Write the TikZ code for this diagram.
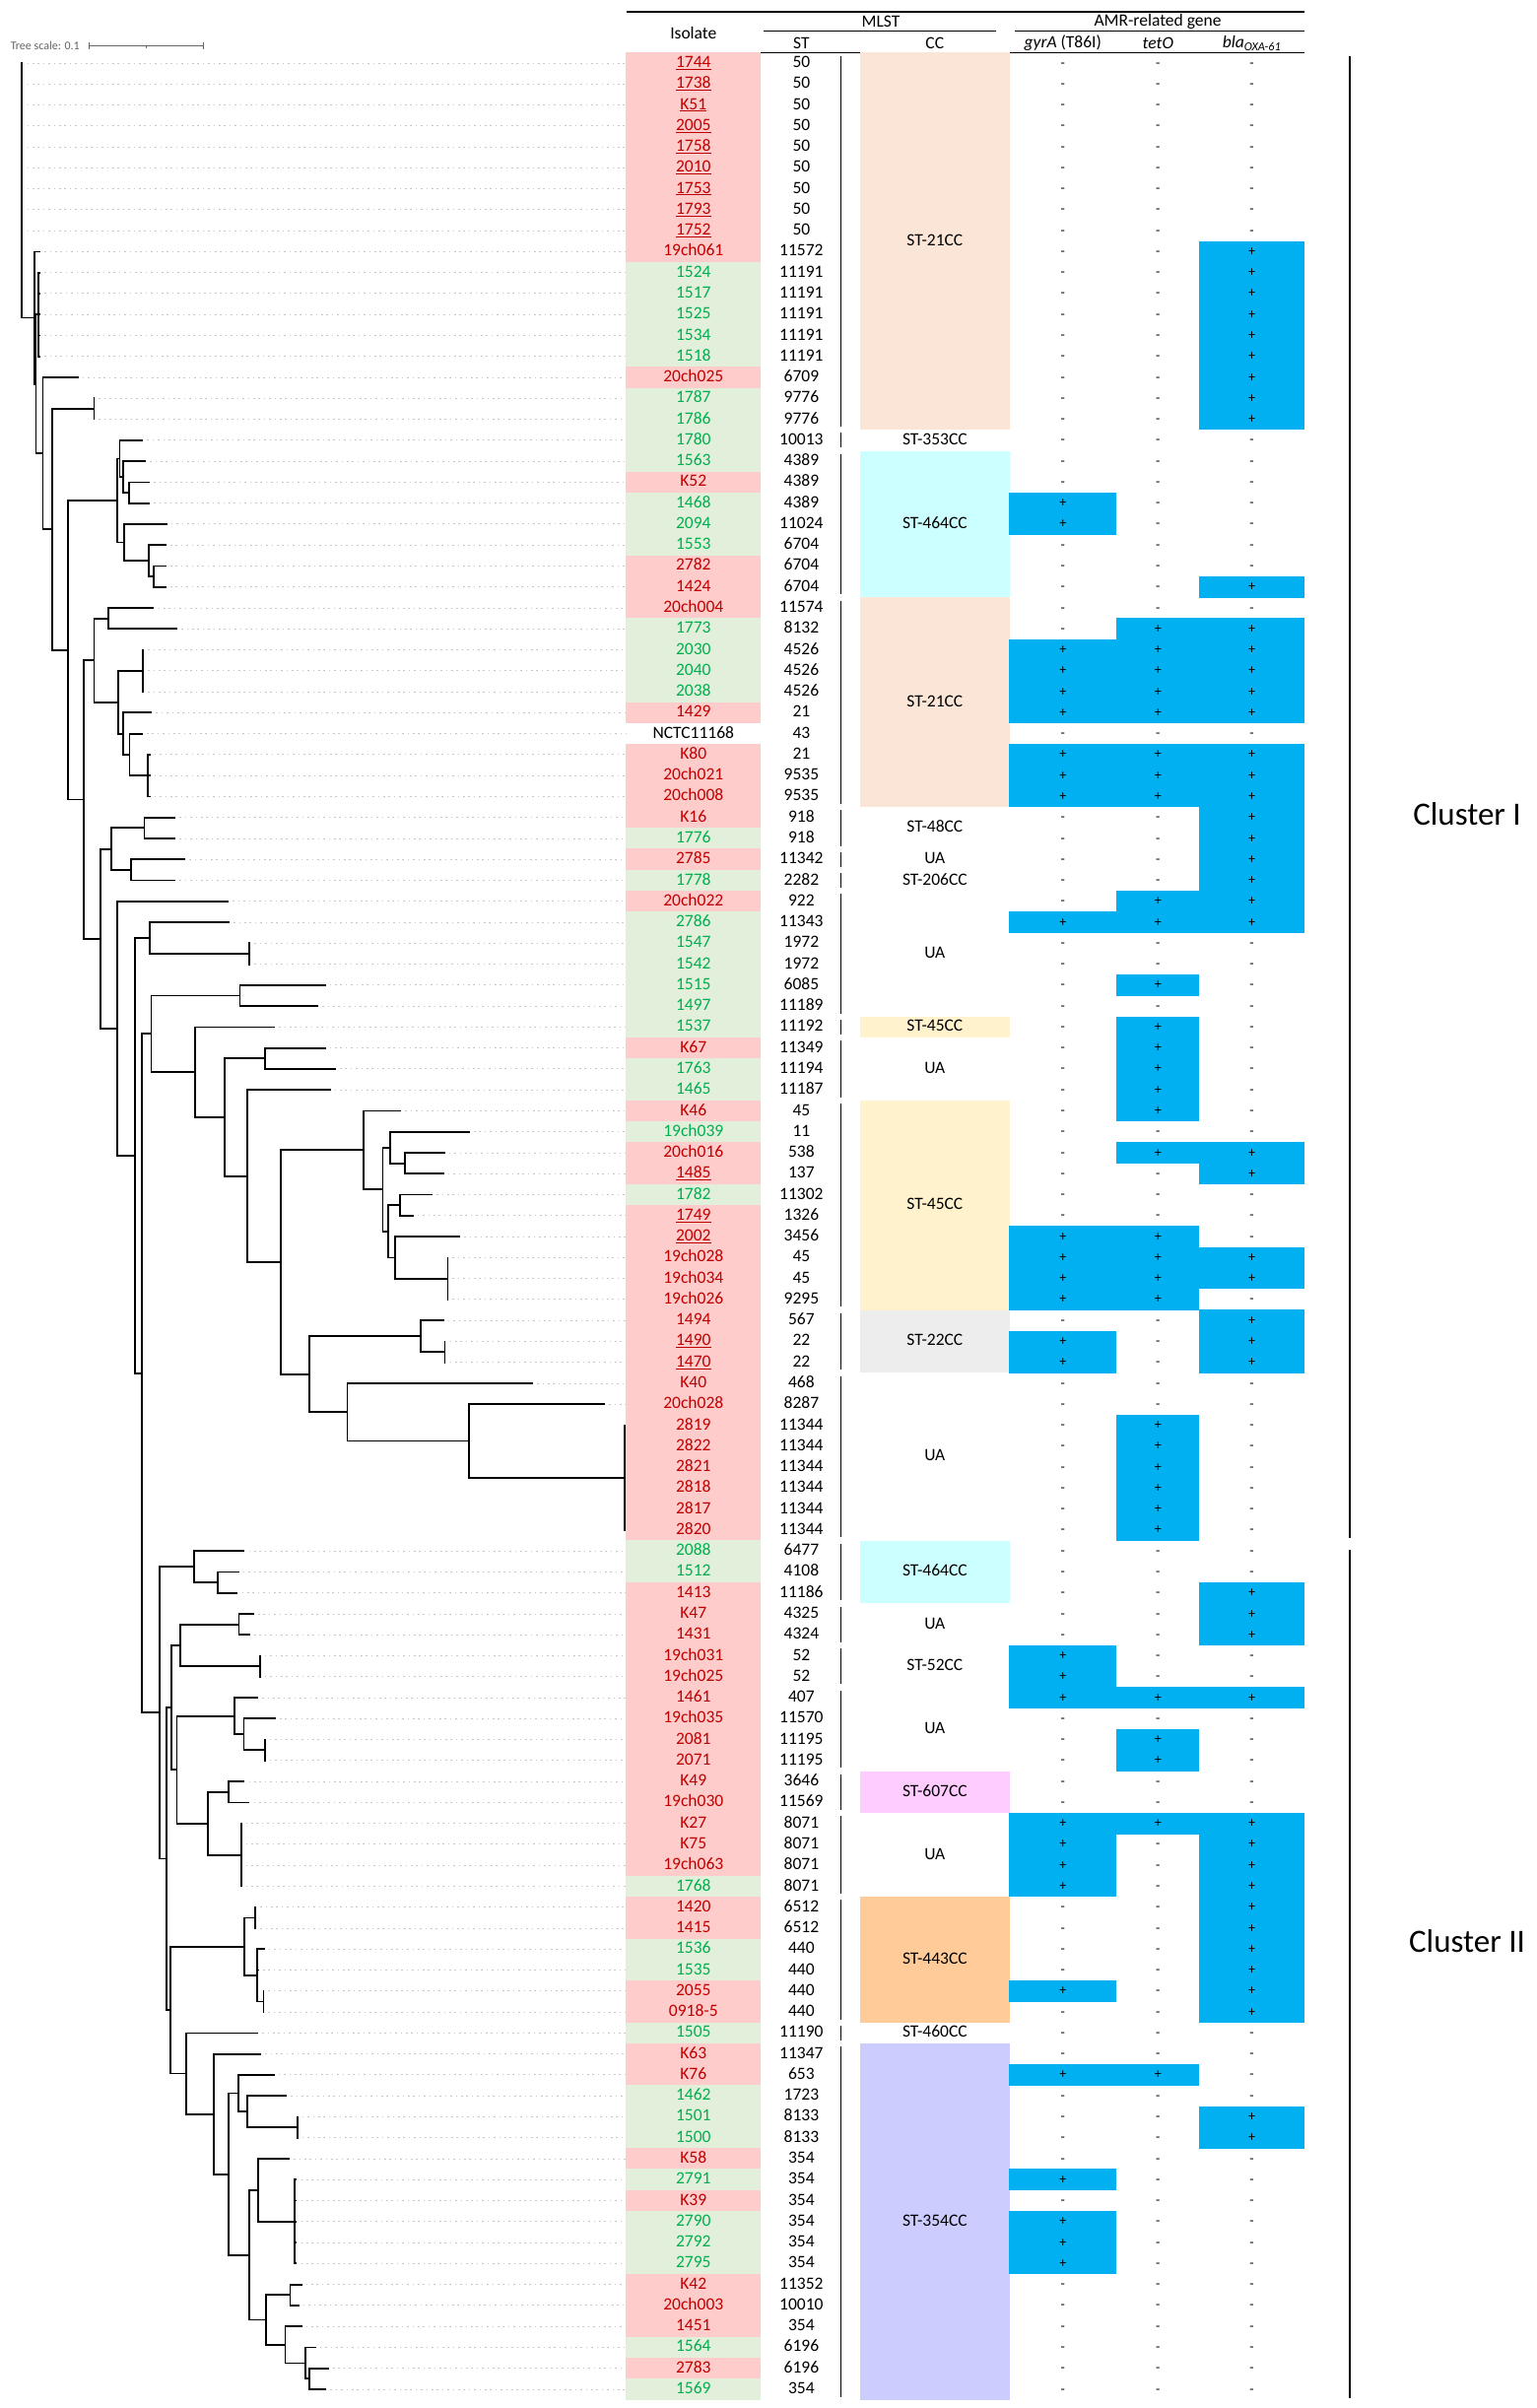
\documentclass[tikz,border=0pt]{standalone}
\usepackage{fontspec}
\setmainfont{Carlito}
\usetikzlibrary{calc}

\definecolor{pinkbg}{RGB}{255,204,204}
\definecolor{greenbg}{RGB}{226,239,218}
\definecolor{isored}{RGB}{192,0,0}
\definecolor{isogreen}{RGB}{0,176,80}
\definecolor{ccpeach}{RGB}{251,229,214}
\definecolor{cccyan}{RGB}{204,255,255}
\definecolor{ccyellow}{RGB}{255,242,204}
\definecolor{ccgray}{RGB}{237,237,237}
\definecolor{ccpink}{RGB}{255,204,255}
\definecolor{ccorange}{RGB}{255,204,153}
\definecolor{cclavender}{RGB}{204,204,255}
\definecolor{amrblue}{RGB}{0,176,240}
\definecolor{leadergray}{RGB}{200,200,200}
\definecolor{scalegray}{RGB}{100,100,100}

\newcommand{\tabfont}{\fontsize{17.5}{20}\selectfont}
\newcommand{\amrfont}{\fontsize{14}{16}\selectfont}
% clade: name, x, first child, last child, all children
\newcommand{\clade}[5]{%
  \coordinate (#1m) at ($(#3)!0.5!(#4)$);
  \coordinate (#1x) at (#2,0);
  \coordinate (#1) at (#1m -| #1x);
  \draw[branch] (#3 -| #1) -- (#4 -| #1);
  \foreach \ch in {#5} \draw[branch] (\ch -| #1) -- (\ch);
}

\begin{document}
\begin{tikzpicture}[x=1pt,y=-1pt,
  branch/.style={line width=1.8pt,line cap=rect},
  leader/.style={draw=leadergray,line width=1pt,dash pattern=on 1.6pt off 3.8pt},
  isocell/.style={inner sep=0pt,minimum width=136.8pt,minimum height=21.6pt,text height=11.5pt,text depth=2.5pt,font=\tabfont},
  stcell/.style={inner sep=0pt,text height=11.5pt,text depth=2.5pt,font=\tabfont},
  cccell/.style={inner sep=0pt,minimum width=151.3pt,text height=11.5pt,text depth=2.5pt,font=\tabfont},
  amrcell/.style={inner sep=0pt,minimum height=21.6pt,text height=9pt,text depth=1pt,font=\amrfont},
  headtext/.style={inner sep=0pt,font=\tabfont},
  sepline/.style={line width=1.5pt},
  clusterbar/.style={line width=1.6pt},
  clusterlab/.style={inner sep=0pt,font=\fontsize{33}{36}\selectfont},
  scalebar/.style={draw=scalegray,line width=0.9pt}]
\fill[white] (0,0) rectangle (1559,2444);
\useasboundingbox (0,0) rectangle (1559,2444);

% Tree scale
\coordinate (sbL) at (90.4,46);
\coordinate (sbM) at (148.4,46);
\coordinate (sbR) at (206.5,46);
\draw[scalebar] (sbL) -- (sbR);
\draw[scalebar] ([yshift=3.5pt]sbL) -- ([yshift=-3.5pt]sbL);
\draw[scalebar] ([yshift=3.5pt]sbR) -- ([yshift=-3.5pt]sbR);
\draw[scalebar] (sbM) -- ([yshift=-2.5pt]sbM);
\node[anchor=east,inner sep=0pt,text=scalegray,font=\fontsize{12}{14}\selectfont] (sbtext) at (81,46) {Tree scale: 0.1};

% Leaves
\foreach \i/\tx in {1/22.5,2/22.5,3/22.5,4/22.5,5/22.5,6/22.5,7/22.5,8/22.5,9/22.5,10/40.2,
  11/40.2,12/40.2,13/40.2,14/40.2,15/40.2,16/78.8,17/95.4,18/95.4,19/144.3,20/147.2,
  21/151.3,22/151.3,23/168.7,24/167.9,25/167.9,26/167.9,27/155.5,28/179.1,29/145.1,30/145.1,
  31/145.1,32/153.4,33/143.9,34/151.7,35/151.7,36/151.7,37/177.4,38/177.4,39/187.4,40/177.4,
  41/231.3,42/232.2,43/253.3,44/253.3,45/329.6,46/322.1,47/278.2,48/329.6,49/340.0,50/334.6,
  51/406.3,52/476.0,53/450.7,54/449.8,55/438.2,56/418.7,57/466.4,58/454.4,59/454.4,60/454.4,
  61/449.8,62/451.5,63/451.5,64/540.2,65/613.2,66/634.3,67/634.3,68/634.3,69/634.3,70/634.3,
  71/634.3,72/247.5,73/241.7,74/240.5,75/257.0,76/252.9,77/263.7,78/263.7,79/261.2,80/279.0,
  81/268.7,82/268.7,83/247.5,84/252.5,85/244.6,86/244.6,87/244.6,88/244.6,89/259.1,90/259.1,
  91/267.8,92/262.0,93/267.4,94/267.4,95/261.2,96/264.1,97/277.8,98/290.2,99/301.8,100/301.8,
  101/293.1,102/300.5,103/300.5,104/300.5,105/300.5,106/300.5,107/305.6,108/302.7,109/305.6,110/319.7,
  111/332.9,112/330.4}
  \coordinate (L\i) at (\tx,{64+(\i-1)*21.27});

% Clades, cluster II
\clade{cZ13}{313.8}{L111}{L112}{L111,L112}
\clade{cZ12}{310.1}{L110}{cZ13}{L110,cZ13}
\clade{cZ11}{289.4}{L109}{cZ12}{L109,cZ12}
\clade{cZ10}{294.4}{L107}{L108}{L107,L108}
\clade{cZ8}{270.3}{cZ10}{cZ11}{cZ10,cZ11}
\clade{cZ9}{299.3}{L102}{L106}{L102,L103,L104,L105,L106}
\clade{cZ7}{262.0}{L101}{cZ9}{L101,cZ9}
\clade{cZ4}{252.9}{cZ7}{cZ8}{cZ7,cZ8}
\clade{cZ6}{301.8}{L99}{L100}{L99,L100}
\clade{cZ5}{250.8}{L98}{cZ6}{L98,cZ6}
\clade{cZ3}{242.1}{L97}{cZ5}{L97,cZ5}
\clade{cZ2}{232.2}{cZ3}{cZ4}{cZ3,cZ4}
\clade{cZ1}{217.2}{L96}{cZ2}{L96,cZ2}
\clade{cZ}{188.6}{L95}{cZ1}{L95,cZ1}
\clade{cY3}{267.4}{L93}{L94}{L93,L94}
\clade{cY2}{261.2}{L91}{cY3}{L91,L92,cY3}
\clade{cY1}{259.1}{L89}{L90}{L89,L90}
\clade{cY}{247.9}{cY1}{cY2}{cY1,cY2}
\clade{cX}{173.3}{cY}{cZ}{cY,cZ}
\clade{cW10}{244.6}{L85}{L88}{L85,L86,L87,L88}
\clade{cW9}{232.2}{L83}{L84}{L83,L84}
\clade{cW6}{210.6}{cW9}{cW10}{cW9,cW10}
\clade{cW8}{268.7}{L81}{L82}{L81,L82}
\clade{cW7}{247.5}{L80}{cW8}{L80,cW8}
\clade{cW5}{237.6}{L79}{cW7}{L79,cW7}
\clade{cW2}{179.5}{cW5}{cW6}{cW5,cW6}
\clade{cW4}{263.7}{L77}{L78}{L77,L78}
\clade{cW3}{242.5}{L75}{L76}{L75,L76}
\clade{cW1}{182.8}{cW3}{cW4}{cW3,cW4}
\clade{cW}{174.1}{cW1}{cW2}{cW1,cW2}
\clade{cV}{168.7}{cW}{cX}{cW,cX}
\clade{cU1}{221.0}{L73}{L74}{L73,L74}
\clade{cU}{196.9}{L72}{cU1}{L72,cU1}
\clade{cT}{161.7}{cU}{cV}{cU,cV}

% Clades, cluster I
\clade{cS20}{634.3}{L66}{L71}{L66,L67,L68,L69,L70,L71}
\clade{cS19}{476.0}{L65}{cS20}{L65,cS20}
\clade{cS17}{352.4}{L64}{cS19}{L64,cS19}
\clade{cS18}{451.5}{L62}{L63}{L62,L63}
\clade{cS16}{427.0}{L61}{cS18}{L61,cS18}
\clade{cS8}{313.8}{cS16}{cS17}{cS16,cS17}
\clade{cS15}{454.4}{L58}{L60}{L58,L59,L60}
\clade{cS14}{400.9}{L57}{cS15}{L57,cS15}
\clade{cS13}{406.3}{L55}{L56}{L55,L56}
\clade{cS11}{393.9}{cS13}{cS14}{cS13,cS14}
\clade{cS12}{411.3}{L53}{L54}{L53,L54}
\clade{cS10}{395.9}{L52}{cS12}{L52,cS12}
\clade{cS9}{388.5}{cS10}{cS11}{cS10,cS11}
\clade{cS7}{369.0}{L51}{cS9}{L51,cS9}
\clade{cS6}{285.2}{cS7}{cS8}{cS7,cS8}
\clade{cS5}{250.8}{L50}{cS6}{L50,cS6}
\clade{cS4}{268.7}{L48}{L49}{L48,L49}
\clade{cS3}{228.0}{cS4}{cS5}{cS4,cS5}
\clade{cS2}{198.2}{L47}{cS3}{L47,cS3}
\clade{cS1}{243.4}{L45}{L46}{L45,L46}
\clade{cS}{153.4}{cS1}{cS2}{cS1,cS2}
\clade{cM2}{143.9}{cS}{cT}{cS,cT}
\clade{cM3}{253.3}{L43}{L44}{L43,L44}
\clade{cM1}{152.2}{L42}{cM3}{L42,cM3}
\clade{cM}{137.2}{cM1}{cM2}{cM1,cM2}
\clade{cK2}{119.0}{L41}{cM}{L41,cM}
\clade{cK4}{132.7}{L39}{L40}{L39,L40}
\clade{cK3}{146.4}{L37}{L38}{L37,L38}
\clade{cK1}{112.8}{cK3}{cK4}{cK3,cK4}
\clade{cK}{101.6}{cK1}{cK2}{cK1,cK2}
\clade{cJ6}{149.7}{L34}{L36}{L34,L35,L36}
\clade{cJ5}{131.4}{L33}{cJ6}{L33,cJ6}
\clade{cJ4}{124.8}{L32}{cJ5}{L32,cJ5}
\clade{cJ3}{144.7}{L29}{L31}{L29,L30,L31}
\clade{cJ2}{119.8}{cJ3}{cJ4}{cJ3,cJ4}
\clade{cJ1}{109.9}{L27}{L28}{L27,L28}
\clade{cJ}{95.4}{cJ1}{cJ2}{cJ1,cJ2}
\clade{cI}{85.0}{cJ}{cK}{cJ,cK}
\clade{cN6}{156.3}{L25}{L26}{L25,L26}
\clade{cN5}{151.3}{L24}{cN6}{L24,cN6}
\clade{cN4}{125.6}{L23}{cN5}{L23,cN5}
\clade{cN1}{131.0}{L21}{L22}{L21,L22}
\clade{cN2}{124.8}{L20}{cN1}{L20,cN1}
\clade{cN3}{121.5}{L19}{cN2}{L19,cN2}
\clade{cH}{119.0}{cN3}{cN4}{cN3,cN4}
\clade{cG}{68.8}{cH}{cI}{cH,cI}
\clade{cF}{95.4}{L17}{L18}{L17,L18}
\clade{cE}{53.1}{cF}{cG}{cF,cG}
\clade{cD}{43.5}{L16}{cE}{L16,cE}
\clade{cC}{38.6}{L11}{L15}{L11,L12,L13,L14,L15}
\clade{cQ}{36.5}{cC}{cD}{cC,cD}
\clade{cP}{35.2}{L10}{cQ}{L10,cQ}
\clade{cR}{21.6}{L1}{cP}{L1,L2,L3,L4,L5,L6,L7,L8,L9,cP}

% Leader lines to the table
\coordinate (isoedge) at (635.4,0);
\foreach \i in {1,...,112}
  \draw[leader] ([xshift=5pt]L\i) -- (L\i -| isoedge);

% Header
\draw[line width=2.4pt] (636,12) -- (1324,12);
\node[headtext] (hiso) at (703.8,33) {Isolate};
\node[headtext] (hmlst) at (894,22) {MLST};
\draw[line width=1pt] (775,31.5) -- (1011,31.5);
\node[headtext] (hamr) at (1175,22) {AMR-related gene};
\draw[line width=1pt] (1030,31.5) -- (1324,31.5);
\node[headtext] (hst) at (813.4,44) {ST};
\node[headtext] (hcc) at (948.8,44) {CC};
\node[headtext] (hgyr) at (1078.8,44) {\textit{gyrA} (T86I)};
\node[headtext] (htet) at (1175.3,44) {\textit{tetO}};
\node[headtext] (hbla) at (1270.6,44) {\textit{bla}\textsubscript{\textit{OXA-61}}};
\draw[line width=1pt] (636,53.5) -- (1324,53.5);

% Clonal complexes
\foreach \ca/\cb/\lab/\fc in {1/18/ST-21CC/ccpeach,19/19/ST-353CC/white,20/26/ST-464CC/cccyan,
  27/36/ST-21CC/ccpeach,37/38/ST-48CC/white,39/39/UA/white,40/40/ST-206CC/white,41/46/UA/white,
  47/47/ST-45CC/ccyellow,48/50/UA/white,51/60/ST-45CC/ccyellow,61/63/ST-22CC/ccgray,64/71/UA/white,
  72/74/ST-464CC/cccyan,75/76/UA/white,77/78/ST-52CC/white,79/82/UA/white,83/84/ST-607CC/ccpink,
  85/88/UA/white,89/94/ST-443CC/ccorange,95/95/ST-460CC/white,96/112/ST-354CC/cclavender}{
  \pgfmathsetmacro{\ym}{64+((\ca+\cb)/2-1)*21.27}
  \pgfmathsetmacro{\hh}{(\cb-\ca+1)*21.27}
  \node[cccell,fill=\fc,minimum height=\hh pt] (cc\ca) at (948.85,\ym) {\lab};
  \draw[sepline] (853.7,{64+(\ca-1)*21.27-7.5}) -- (853.7,{64+(\cb-1)*21.27+7.5});
}

% Isolates, ST and AMR genes
\foreach \rw/\iso/\st/\cl/\ga/\te/\bl in {1/1744/50/4/0/0/0,2/1738/50/4/0/0/0,3/K51/50/4/0/0/0,
  4/2005/50/4/0/0/0,5/1758/50/4/0/0/0,6/2010/50/4/0/0/0,7/1753/50/4/0/0/0,8/1793/50/4/0/0/0,
  9/1752/50/4/0/0/0,10/19ch061/11572/1/0/0/1,11/1524/11191/2/0/0/1,12/1517/11191/2/0/0/1,
  13/1525/11191/2/0/0/1,14/1534/11191/2/0/0/1,15/1518/11191/2/0/0/1,16/20ch025/6709/1/0/0/1,
  17/1787/9776/2/0/0/1,18/1786/9776/2/0/0/1,19/1780/10013/2/0/0/0,20/1563/4389/2/0/0/0,
  21/K52/4389/1/0/0/0,22/1468/4389/2/1/0/0,23/2094/11024/2/1/0/0,24/1553/6704/2/0/0/0,
  25/2782/6704/1/0/0/0,26/1424/6704/1/0/0/1,27/20ch004/11574/1/0/0/0,28/1773/8132/2/0/1/1,
  29/2030/4526/2/1/1/1,30/2040/4526/2/1/1/1,31/2038/4526/2/1/1/1,32/1429/21/1/1/1/1,
  33/NCTC11168/43/3/0/0/0,34/K80/21/1/1/1/1,35/20ch021/9535/1/1/1/1,36/20ch008/9535/1/1/1/1,
  37/K16/918/1/0/0/1,38/1776/918/2/0/0/1,39/2785/11342/1/0/0/1,40/1778/2282/2/0/0/1,
  41/20ch022/922/1/0/1/1,42/2786/11343/2/1/1/1,43/1547/1972/2/0/0/0,44/1542/1972/2/0/0/0,
  45/1515/6085/2/0/1/0,46/1497/11189/2/0/0/0,47/1537/11192/2/0/1/0,48/K67/11349/1/0/1/0,
  49/1763/11194/2/0/1/0,50/1465/11187/2/0/1/0,51/K46/45/1/0/1/0,52/19ch039/11/2/0/0/0,
  53/20ch016/538/1/0/1/1,54/1485/137/4/0/0/1,55/1782/11302/2/0/0/0,56/1749/1326/4/0/0/0,
  57/2002/3456/4/1/1/0,58/19ch028/45/1/1/1/1,59/19ch034/45/1/1/1/1,60/19ch026/9295/1/1/1/0,
  61/1494/567/1/0/0/1,62/1490/22/4/1/0/1,63/1470/22/4/1/0/1,64/K40/468/1/0/0/0,
  65/20ch028/8287/1/0/0/0,66/2819/11344/1/0/1/0,67/2822/11344/1/0/1/0,68/2821/11344/1/0/1/0,
  69/2818/11344/1/0/1/0,70/2817/11344/1/0/1/0,71/2820/11344/1/0/1/0,72/2088/6477/2/0/0/0,
  73/1512/4108/2/0/0/0,74/1413/11186/1/0/0/1,75/K47/4325/1/0/0/1,76/1431/4324/1/0/0/1,
  77/19ch031/52/1/1/0/0,78/19ch025/52/1/1/0/0,79/1461/407/1/1/1/1,80/19ch035/11570/1/0/0/0,
  81/2081/11195/1/0/1/0,82/2071/11195/1/0/1/0,83/K49/3646/1/0/0/0,84/19ch030/11569/1/0/0/0,
  85/K27/8071/1/1/1/1,86/K75/8071/1/1/0/1,87/19ch063/8071/1/1/0/1,88/1768/8071/2/1/0/1,
  89/1420/6512/1/0/0/1,90/1415/6512/1/0/0/1,91/1536/440/2/0/0/1,92/1535/440/2/0/0/1,
  93/2055/440/1/1/0/1,94/0918-5/440/1/0/0/1,95/1505/11190/2/0/0/0,96/K63/11347/1/0/0/0,
  97/K76/653/1/1/1/0,98/1462/1723/2/0/0/0,99/1501/8133/2/0/0/1,100/1500/8133/2/0/0/1,
  101/K58/354/1/0/0/0,102/2791/354/2/1/0/0,103/K39/354/1/0/0/0,104/2790/354/2/1/0/0,
  105/2792/354/2/1/0/0,106/2795/354/2/1/0/0,107/K42/11352/1/0/0/0,108/20ch003/10010/1/0/0/0,
  109/1451/354/1/0/0/0,110/1564/6196/2/0/0/0,111/2783/6196/1/0/0/0,112/1569/354/2/0/0/0}{
  \pgfmathsetmacro{\yy}{64+(\rw-1)*21.27}
  \ifcase\cl\or
    \node[isocell,fill=pinkbg,text=isored] (iso\rw) at (703.8,\yy) {\iso};
  \or
    \node[isocell,fill=greenbg,text=isogreen] (iso\rw) at (703.8,\yy) {\iso};
  \or
    \node[isocell] (iso\rw) at (703.8,\yy) {\iso};
  \or
    \node[isocell,fill=pinkbg,text=isored] (iso\rw) at (703.8,\yy) {\underline{\iso}};
  \fi
  \node[stcell] (st\rw) at (813.4,\yy) {\st};
  \ifnum\ga=1 \node[amrcell,fill=amrblue,minimum width=108.8pt] (gy\rw) at (1078.85,\yy) {+};
  \else \node[amrcell,minimum width=108.8pt] (gy\rw) at (1078.85,\yy) {-};\fi
  \ifnum\te=1 \node[amrcell,fill=amrblue,minimum width=84.3pt] (te\rw) at (1175.3,\yy) {+};
  \else \node[amrcell,minimum width=84.3pt] (te\rw) at (1175.3,\yy) {-};\fi
  \ifnum\bl=1 \node[amrcell,fill=amrblue,minimum width=106.5pt] (bl\rw) at (1270.6,\yy) {+};
  \else \node[amrcell,minimum width=106.5pt] (bl\rw) at (1270.6,\yy) {-};\fi
}

% Clusters
\draw[clusterbar] (1370,57) -- (1370,1561);
\draw[clusterbar] (1370,1573) -- (1370,2434);
\node[clusterlab] (clI) at (1489,826) {Cluster I};
\node[clusterlab] (clII) at (1489,1970) {Cluster II};

\end{tikzpicture}
\end{document}
